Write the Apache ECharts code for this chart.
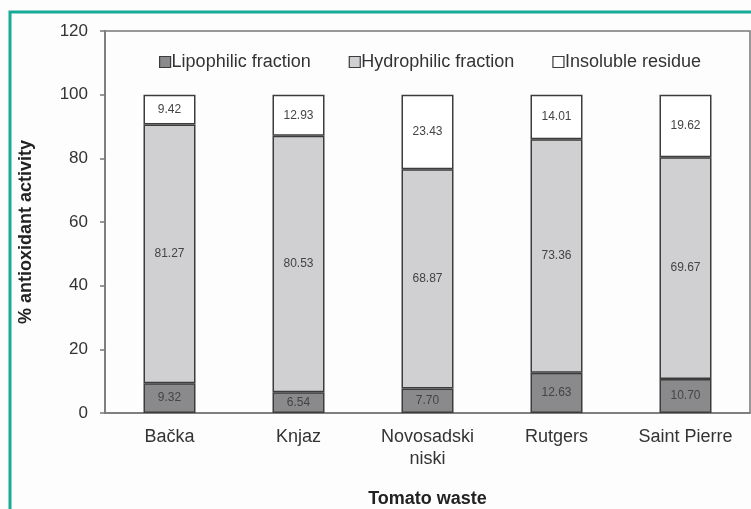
<!DOCTYPE html>
<html><head><meta charset="utf-8">
<script src="https://cdn.jsdelivr.net/npm/echarts@6/dist/echarts.min.js"></script>
<style>html,body{margin:0;padding:0;background:#fdfdfd}#c{width:751px;height:509px}</style>
</head><body><div id="c"></div>
<script>
const categories = ['Bačka', 'Knjaz', 'Novosadski\nniski', 'Rutgers', 'Saint Pierre'];
const lipophilic = [9.32, 6.54, 7.70, 12.63, 10.70];
const hydrophilic = [81.27, 80.53, 68.87, 73.36, 69.67];
const insoluble = [9.42, 12.93, 23.43, 14.01, 19.62];
const yTicks = [0, 20, 40, 60, 80, 100, 120];

const chart = echarts.init(document.getElementById('c'), null, {renderer: 'canvas'});
const fontFam = 'Liberation Sans, Arial, sans-serif';
function mk(name, data, color) {
  return {
    name, type: 'bar', stack: 'a', data, barWidth: 52,
    itemStyle: {color, borderColor: '#3c3c3c', borderWidth: 1.5},
    label: {show: true, position: 'inside', color: '#444', fontSize: 12, fontFamily: fontFam,
      formatter: p => p.value.toFixed(2)}
  };
}
chart.setOption({
  backgroundColor: '#fdfdfd',
  animation: false,
  textStyle: {fontFamily: fontFam},
  graphic: [{type: 'rect', shape: {x: 10, y: 12, width: 800, height: 600},
    style: {fill: 'none', stroke: '#17ab98', lineWidth: 3}}],
  legend: {
    top: 48, left: 154, itemWidth: 11, itemHeight: 11, itemGap: 38,
    icon: 'rect',
    textStyle: {fontSize: 18, color: '#333', fontFamily: fontFam, padding: [0, 0, 0, -4]},
    itemStyle: {borderColor: '#3c3c3c', borderWidth: 1.2},
    data: ['Lipophilic fraction', 'Hydrophilic fraction', 'Insoluble residue']
  },
  grid: {left: 105, right: 1, top: 31, bottom: 96, outerBoundsMode: 'none', containLabel: false,
    show: true, borderColor: '#777', borderWidth: 1.5, backgroundColor: 'transparent'},
  xAxis: {
    type: 'category', data: categories,
    name: 'Tomato waste', nameLocation: 'middle', nameGap: 77,
    nameTextStyle: {fontSize: 18, fontWeight: 'bold', color: '#222'},
    axisLine: {lineStyle: {color: '#777', width: 1.5}},
    axisTick: {length: 5, lineStyle: {color: '#777', width: 1.5}},
    axisLabel: {fontSize: 18, color: '#333', margin: 13, lineHeight: 22}
  },
  yAxis: {
    type: 'value', min: 0, max: 120, interval: 20,
    name: '% antioxidant activity', nameLocation: 'middle', nameGap: 70,
    nameTextStyle: {fontSize: 18, fontWeight: 'bold', color: '#222', padding: [0, 20, 0, 0]},
    axisLine: {show: true, lineStyle: {color: '#777', width: 1.5}},
    axisTick: {show: true, length: 5, lineStyle: {color: '#777', width: 1.5}},
    axisLabel: {fontSize: 17, color: '#333', margin: 17, formatter: v => yTicks.includes(v) ? String(v) : ''},
    splitLine: {show: false}
  },
  series: [
    mk('Lipophilic fraction', lipophilic, '#8a8a8c'),
    mk('Hydrophilic fraction', hydrophilic, '#d0d0d2'),
    mk('Insoluble residue', insoluble, '#ffffff')
  ]
});
</script></body></html>
